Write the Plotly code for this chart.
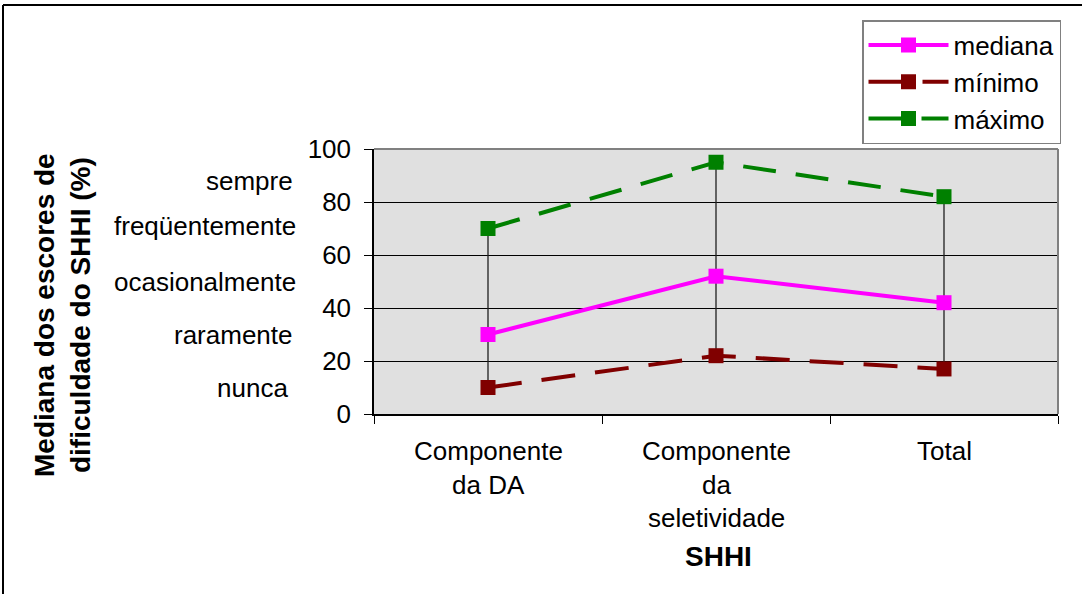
import plotly.graph_objects as go

# Category labels (SHHI components), one list of text lines per category
categories = ["Componente da DA", "Componente da seletividade", "Total"]
category_lines = [["Componente", "da DA"], ["Componente", "da", "seletividade"], ["Total"]]

# Series values (% difficulty scores)
mediana = [30, 52, 42]
minimo = [10, 22, 17]
maximo = [70, 95, 82]

# Frequency descriptors shown beside the y axis, and the levels they sit at
level_labels = ["sempre", "freqüentemente", "ocasionalmente", "raramente", "nunca"]
level_values = [88, 71, 50, 30, 10]

y_ticks = [0, 20, 40, 60, 80, 100]

FONT = "Arial, Liberation Sans, sans-serif"
TXT = 26    # regular text size
TITLE = 28  # bold axis title size

fig = go.Figure()

# High-low lines joining minimum and maximum at each category
hl_x, hl_y = [], []
for c, lo, hi in zip(categories, minimo, maximo):
    hl_x += [c, c, None]
    hl_y += [lo, hi, None]
fig.add_trace(go.Scatter(x=hl_x, y=hl_y, mode="lines", showlegend=False,
                         line=dict(color="#202020", width=1.3), hoverinfo="skip"))

fig.add_trace(go.Scatter(x=categories, y=mediana, name="mediana", mode="lines+markers",
                         line=dict(color="#FF00FF", width=4),
                         marker=dict(symbol="square", size=15, color="#FF00FF")))
fig.add_trace(go.Scatter(x=categories, y=minimo, name="mínimo", mode="lines+markers",
                         line=dict(color="#800000", width=4, dash="34px,20px"),
                         marker=dict(symbol="square", size=15, color="#800000")))
fig.add_trace(go.Scatter(x=categories, y=maximo, name="máximo", mode="lines+markers",
                         line=dict(color="#008000", width=4, dash="33px,20px"),
                         marker=dict(symbol="square", size=15, color="#008000")))

W, H = 1082, 594
L, R, T, B = 374, 24, 149, 180
pw, ph = W - L - R, H - T - B


def px(x):
    return (x - L) / pw


def py(y):
    return (H - B - y) / ph


annotations = []

# Category labels under the x axis, one annotation per text line
line_y = [451, 485, 518]
for c, lines in zip(categories, category_lines):
    for i, t in enumerate(lines):
        annotations.append(dict(x=c, xref="x", y=py(line_y[i]), yref="paper",
                                text=t, showarrow=False, xanchor="center", yanchor="middle",
                                font=dict(family=FONT, size=TXT, color="black")))

# Frequency descriptors
label_right = [295, 298, 298, 295, 290]
for t, v, xr in zip(level_labels, level_values, label_right):
    annotations.append(dict(x=px(xr), xref="paper", y=v, yref="y", text=t,
                            showarrow=False, xanchor="right", yanchor="middle",
                            font=dict(family=FONT, size=TXT, color="black")))

# Axis titles
annotations.append(dict(x=px(62), xref="paper", y=py(315), yref="paper",
                        text="<b>Mediana dos escores de<br>dificuldade do SHHI (%)</b>",
                        textangle=-90, showarrow=False, xanchor="center", yanchor="middle",
                        font=dict(family=FONT, size=TITLE, color="black")))
annotations.append(dict(x=px(718), xref="paper", y=py(556), yref="paper",
                        text="<b>SHHI</b>", showarrow=False, xanchor="center", yanchor="middle",
                        font=dict(family=FONT, size=TITLE, color="black")))

shapes = [
    # grey border on top and right of the plot area
    dict(type="line", xref="paper", yref="paper", x0=0, x1=1, y0=1, y1=1,
         line=dict(color="#808080", width=2)),
    dict(type="line", xref="paper", yref="paper", x0=1, x1=1, y0=0, y1=1,
         line=dict(color="#808080", width=2)),
    # outer chart frame
    dict(type="line", xref="paper", yref="paper", x0=px(3), x1=px(W + 5), y0=py(5), y1=py(5),
         line=dict(color="black", width=2)),
    dict(type="line", xref="paper", yref="paper", x0=px(3), x1=px(3), y0=py(5), y1=py(H + 5),
         line=dict(color="black", width=2)),
]

fig.update_layout(
    width=W, height=H,
    margin=dict(l=L, r=R, t=T, b=B, pad=0),
    paper_bgcolor="white",
    plot_bgcolor="#E0E0E0",
    font=dict(family=FONT, size=TXT, color="black"),
    annotations=annotations,
    shapes=shapes,
    legend=dict(x=px(862), y=py(20), xanchor="left", yanchor="top",
                bgcolor="white", bordercolor="#808080", borderwidth=1.5,
                font=dict(family=FONT, size=TXT, color="black"),
                itemwidth=80, tracegroupgap=0),
    xaxis=dict(type="category", range=[-0.5, 2.5], showticklabels=False,
               showline=True, linecolor="black", linewidth=1.5,
               ticks="outside", ticklen=8, tickcolor="black", tickson="boundaries",
               showgrid=False, zeroline=False),
    yaxis=dict(range=[0, 100], tickvals=y_ticks, ticks="outside", ticklen=8,
               tickcolor="black", showline=True, linecolor="black", linewidth=1.5,
               showgrid=True, gridcolor="#000000", gridwidth=1, zeroline=False,
               ticklabelstandoff=8,
               tickfont=dict(family=FONT, size=TXT, color="black")),
)

fig.write_html("out.html")
